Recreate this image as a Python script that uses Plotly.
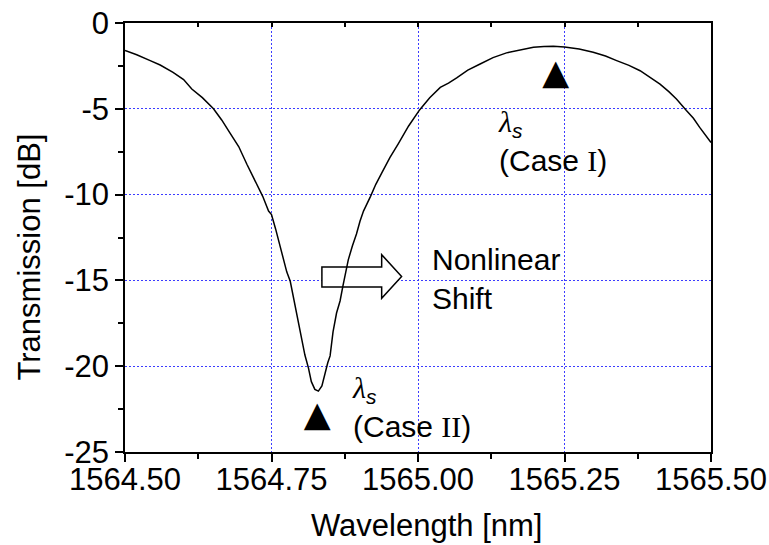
import plotly.graph_objects as go

# Measured transmission spectrum of the resonator
wavelength_nm = [
    1564.500, 1564.520, 1564.543, 1564.560, 1564.582, 1564.600, 1564.614, 1564.632,
    1564.651, 1564.665, 1564.679, 1564.694, 1564.708, 1564.722, 1564.735, 1564.745,
    1564.750, 1564.757, 1564.764, 1564.770, 1564.776, 1564.782, 1564.787, 1564.796,
    1564.801, 1564.807, 1564.813, 1564.818, 1564.824, 1564.830, 1564.836, 1564.841,
    1564.846, 1564.850, 1564.855, 1564.861, 1564.867, 1564.872, 1564.881, 1564.888,
    1564.895, 1564.901, 1564.907, 1564.919, 1564.928, 1564.938, 1564.952, 1564.966,
    1564.984, 1565.003, 1565.020, 1565.038, 1565.052, 1565.066, 1565.085, 1565.106,
    1565.128, 1565.151, 1565.175, 1565.197, 1565.215, 1565.231, 1565.250, 1565.275,
    1565.299, 1565.320, 1565.339, 1565.360, 1565.379, 1565.396, 1565.413, 1565.428,
    1565.441, 1565.458, 1565.470, 1565.481, 1565.490, 1565.500,
]
transmission_db = [
    -1.60, -1.85, -2.19, -2.45, -2.88, -3.30, -3.85, -4.35,
    -5.00, -5.65, -6.40, -7.20, -8.23, -9.21, -10.10, -10.96,
    -11.16, -12.00, -12.90, -13.60, -14.50, -15.05, -15.90, -17.40,
    -18.40, -19.35, -20.10, -20.90, -21.35, -21.45, -21.15, -20.40,
    -19.80, -19.40, -18.00, -16.90, -16.20, -15.30, -13.80, -13.00,
    -12.30, -11.55, -10.96, -10.10, -9.40, -8.75, -7.85, -7.06,
    -6.00, -5.05, -4.35, -3.75, -3.50, -3.20, -2.75, -2.39,
    -2.02, -1.74, -1.55, -1.41, -1.37, -1.36, -1.40, -1.52,
    -1.70, -1.92, -2.19, -2.47, -2.78, -3.15, -3.56, -4.00,
    -4.43, -5.10, -5.55, -6.10, -6.50, -6.97,
]

# Signal wavelength positions (Case I, Case II)
signal_wl = [1565.235, 1564.828]
signal_db = [-3.07, -23.0]

x_tick_vals = [1564.50, 1564.75, 1565.00, 1565.25, 1565.50]
x_tick_text = ["1564.50", "1564.75", "1565.00", "1565.25", "1565.50"]
y_tick_vals = [0, -5, -10, -15, -20, -25]
y_tick_text = ["0", "-5", "-10", "-15", "-20", "-25"]

SANS = "Liberation Sans, Arial, sans-serif"
SERIF = "Liberation Serif"
GRID = "rgb(60,60,255)"

fig = go.Figure()

fig.add_trace(go.Scatter(
    x=wavelength_nm, y=transmission_db, mode="lines",
    line=dict(color="black", width=1.5), showlegend=False, hoverinfo="skip",
))

fig.add_trace(go.Scatter(
    x=signal_wl, y=signal_db, mode="text", text=["\u25B2", "\u25B2"],
    textposition="middle center",
    textfont=dict(family="DejaVu Sans", size=35, color="black"),
    showlegend=False, hoverinfo="skip",
))

# carrier for the top tick axis
fig.add_trace(go.Scatter(
    x=[x_tick_vals[0]], y=[y_tick_vals[0]], xaxis="x2", mode="markers",
    marker=dict(opacity=0), showlegend=False, hoverinfo="skip",
))

# block arrow marking the nonlinear shift
ax0, ax1, ax2 = 1564.836, 1564.938, 1564.972
fig.add_shape(
    type="path", xref="x", yref="y", layer="between",
    path=(f"M {ax0},-14.22 L {ax1},-14.22 L {ax1},-13.50 L {ax2},-14.77 "
          f"L {ax1},-16.04 L {ax1},-15.39 L {ax0},-15.39 Z"),
    fillcolor="white", line=dict(color="black", width=1.5),
)

lam = f'<span style="font-family:{SERIF}"><i>\u03bb</i></span><sub><i>s</i></sub>'
fig.add_annotation(
    x=1565.02, y=-14.9, xref="x", yref="y", xanchor="left", yanchor="middle",
    text="Nonlinear<br>Shift", showarrow=False, align="left",
    font=dict(family=SANS, size=30, color="black"),
)
fig.add_annotation(
    x=1565.133, y=-6.85, xref="x", yref="y", xanchor="left", yanchor="middle",
    text=f'{lam}<br>(Case <span style="font-family:{SERIF}">I</span>)',
    showarrow=False, align="left",
    font=dict(family=SANS, size=30, color="black"),
)
fig.add_annotation(
    x=1564.884, y=-22.35, xref="x", yref="y", xanchor="left", yanchor="middle",
    text=f'{lam}<br>(Case <span style="font-family:{SERIF}">II</span>)',
    showarrow=False, align="left",
    font=dict(family=SANS, size=30, color="black"),
)

# axis titles
fig.add_annotation(
    x=0.5145, y=-0.172, xref="paper", yref="paper", xanchor="center", yanchor="middle",
    text="Wavelength [nm]", showarrow=False,
    font=dict(family=SANS, size=31, color="black"),
)
fig.add_annotation(
    x=-0.1638, y=0.4534, xref="paper", yref="paper", xanchor="center", yanchor="middle",
    text="Transmission [dB]", showarrow=False, textangle=-90,
    font=dict(family=SANS, size=31, color="black"),
)

axis_common = dict(
    showline=True, linecolor="black", linewidth=1.5, mirror=True,
    ticks="outside", ticklen=8, tickwidth=1.5, tickcolor="black",
    showgrid=True, gridcolor=GRID, gridwidth=1, griddash="2px,2px",
    zeroline=False, automargin=False,
    tickfont=dict(family=SANS, size=31, color="black"),
)

fig.update_layout(
    template="none",
    width=769, height=545, autosize=False,
    margin=dict(l=125, r=58, t=23, b=93, pad=0),
    paper_bgcolor="white", plot_bgcolor="white",
    xaxis=dict(
        range=[1564.5, 1565.5], tickmode="array",
        tickvals=x_tick_vals, ticktext=x_tick_text, ticklabelstandoff=-9,
        minor=dict(tickmode="linear", tick0=1564.5, dtick=0.125, ticks="outside",
                   ticklen=5, tickwidth=1.5, tickcolor="black", showgrid=False),
        **axis_common,
    ),
    xaxis2=dict(
        range=[1564.5, 1565.5], overlaying="x", side="top", anchor="y",
        tickmode="linear", tick0=1564.5, dtick=0.125, ticks="inside", ticklen=4,
        tickwidth=1.5, tickcolor="black", showticklabels=False, showgrid=False,
        showline=False, zeroline=False, automargin=False,
    ),
    yaxis=dict(
        range=[-25, 0], tickmode="array",
        tickvals=y_tick_vals, ticktext=y_tick_text,
        minor=dict(tickmode="linear", tick0=0, dtick=2.5, ticks="outside",
                   ticklen=5, tickwidth=1.5, tickcolor="black", showgrid=False),
        **axis_common,
    ),
)

fig.write_html("out.html")
